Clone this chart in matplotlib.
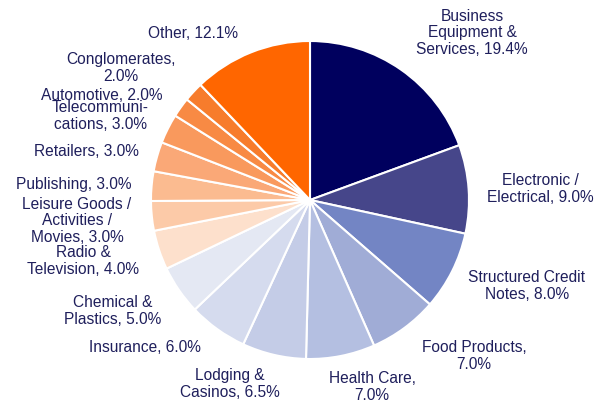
import matplotlib
matplotlib.use("Agg")
from matplotlib import pyplot as plt

plt.rcParams['font.family'] = ['Liberation Sans', 'DejaVu Sans']

# sectors, clockwise from 12 o'clock
sectors = ["Business\nEquipment &\nServices", "Electronic /\nElectrical", "Structured Credit\nNotes",
           "Food Products,\n", "Health Care,\n", "Lodging &\nCasinos", "Insurance",
           "Chemical &\nPlastics", "Radio &\nTelevision", "Leisure Goods /\nActivities /\nMovies",
           "Publishing", "Retailers", "Telecommuni-\ncations", "Automotive", "Conglomerates,\n", "Other"]
shares = [19.4, 9.0, 8.0, 7.0, 7.0, 6.5, 6.0, 5.0, 4.0, 3.0, 3.0, 3.0, 3.0, 2.0, 2.0, 12.1]
colors = ["#00005e", "#46468a", "#7385c4", "#a0acd6", "#b4bfe1", "#c4cce7", "#d5dbee", "#e4e8f3",
          "#fde0cc", "#fccaa8", "#fbbb90", "#faa877", "#f9995d", "#f88a44", "#f77c2c", "#ff6600"]

# label anchor points (pixels from top-left)
label_xy = [(472, 33), (540, 189), (527, 286), (474, 356), (372, 387), (230, 384), (145, 348),
            (113, 311), (83, 261), (77, 221), (74, 185), (86, 152), (100, 116), (102, 96),
            (121, 68), (193, 33)]

W, H = 602, 402
fig = plt.figure(figsize=(W / 100, H / 100), dpi=100)
ax = fig.add_axes([0, 0, 1, 1])

ax.pie(shares, colors=colors, startangle=90, counterclock=False,
       center=(310, H - 201), radius=159,
       wedgeprops=dict(edgecolor='white', linewidth=1.5))

# pie() resets the limits, so fix the pixel frame afterwards
ax.set_xlim(0, W)
ax.set_ylim(0, H)
ax.set_aspect('equal')
ax.axis('off')

for name, val, (x, y) in zip(sectors, shares, label_xy):
    if name.endswith("\n"):
        txt = f"{name}{val:.1f}%"
    else:
        txt = f"{name}, {val:.1f}%"
    ax.text(x, H - y, txt, ha='center', va='center', fontsize=11.2,
            color='#1f1f5c', linespacing=1.13)

fig.savefig("out.png", dpi=100)
